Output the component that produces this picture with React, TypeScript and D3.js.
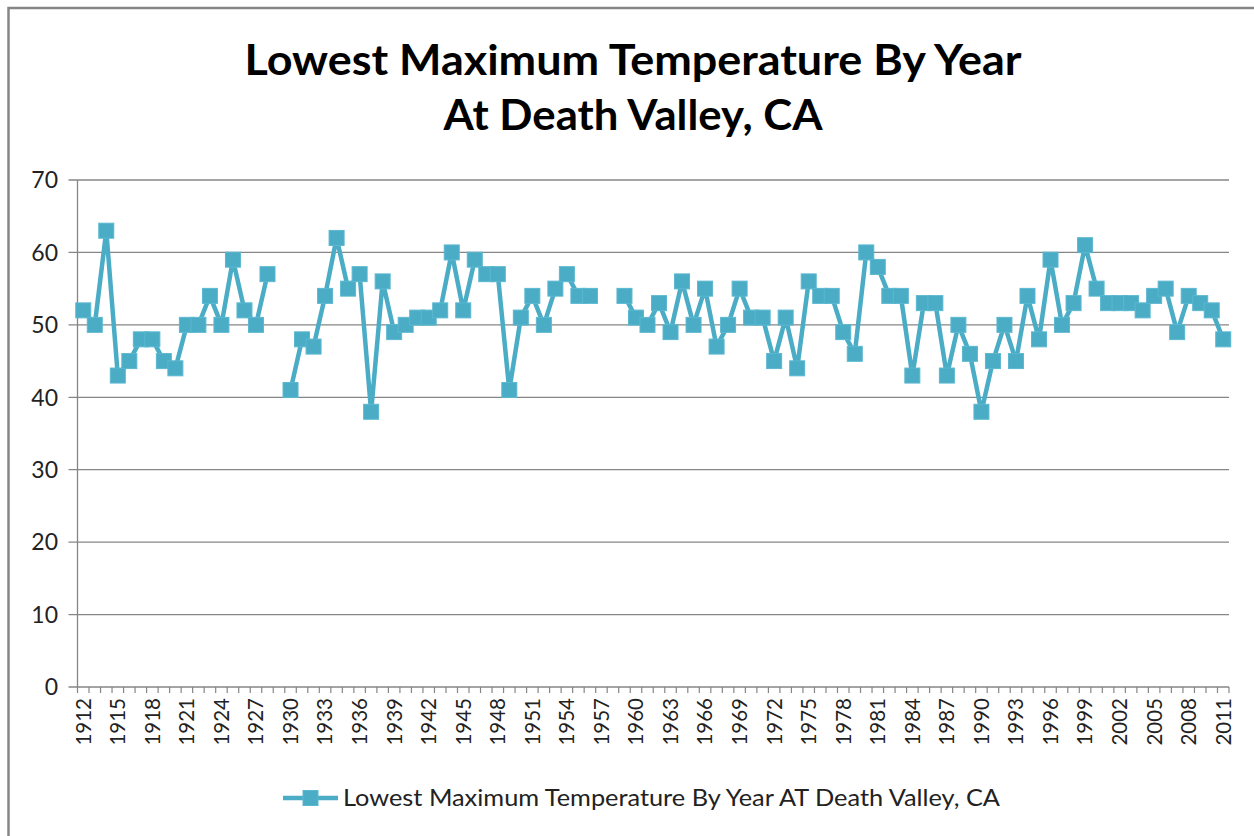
import React from "react";
import * as d3 from "d3";

const years: number[] = d3.range(1912, 2012);
const temps: (number | null)[] = [
  52, 50, 63, 43, 45, 48, 48, 45, 44, 50,
  50, 54, 50, 59, 52, 50, 57, null, 41, 48,
  47, 54, 62, 55, 57, 38, 56, 49, 50, 51,
  51, 52, 60, 52, 59, 57, 57, 41, 51, 54,
  50, 55, 57, 54, 54, null, null, 54, 51, 50,
  53, 49, 56, 50, 55, 47, 50, 55, 51, 51,
  45, 51, 44, 56, 54, 54, 49, 46, 60, 58,
  54, 54, 43, 53, 53, 43, 50, 46, 38, 45,
  50, 45, 54, 48, 59, 50, 53, 61, 55, 53,
  53, 53, 52, 54, 55, 49, 54, 53, 52, 48,
];
const yTicks: number[] = [0, 10, 20, 30, 40, 50, 60, 70];
const titleLines: string[] = ["Lowest Maximum Temperature By Year", "At Death Valley, CA"];
const seriesName = "Lowest Maximum Temperature By Year AT Death Valley, CA";

const W = 1254;
const H = 836;
const LEFT = 77.5;
const RIGHT = 1229;
const TOP = 180;
const BOTTOM = 687;
const COLOR = "#4bacc6";
const GRID = "#868686";
const FONT = "Lato, 'Open Sans', sans-serif";

export default function App() {
  const x = d3.scaleBand<number>().domain(years).range([LEFT, RIGHT]).padding(0);
  const y = d3.scaleLinear().domain([0, 70]).range([BOTTOM, TOP]);
  const cx = (yr: number) => (x(yr) as number) + x.bandwidth() / 2;

  const data = years.map((yr, i) => ({ yr, v: temps[i] }));
  const line = d3
    .line<{ yr: number; v: number | null }>()
    .defined((d) => d.v !== null)
    .x((d) => cx(d.yr))
    .y((d) => y(d.v as number));

  const boundaries = d3.range(years.length + 1).map((i) => LEFT + i * x.bandwidth());
  const labelYears = years.filter((_, i) => i % 3 === 0);
  const ms = 15;

  return (
    <svg width={W} height={H} style={{ position: "absolute", left: 0, top: 0, background: "#fff" }}>
      <rect x={8.5} y={8} width={W + 20} height={H + 20} fill="#fff" stroke={GRID} strokeWidth={2.5} />
      {/* title */}
      <text x={633} y={75} textAnchor="middle" fontFamily={FONT} fontWeight={700} fontSize={42} fill="#000"
        textLength={777} lengthAdjust="spacingAndGlyphs">{titleLines[0]}</text>
      <text x={633} y={130} textAnchor="middle" fontFamily={FONT} fontWeight={700} fontSize={42} fill="#000"
        textLength={379} lengthAdjust="spacingAndGlyphs">{titleLines[1]}</text>
      {/* gridlines */}
      {yTicks.map((t) => (
        <g key={t}>
          <line x1={LEFT - 9} x2={RIGHT} y1={y(t)} y2={y(t)} stroke={GRID} strokeWidth={1.3} />
          <text x={58} y={y(t)} dy="0.36em" textAnchor="end" fontFamily={FONT} fontSize={23} fill="#222">{t}</text>
        </g>
      ))}
      {/* y axis */}
      <line x1={LEFT} x2={LEFT} y1={TOP} y2={BOTTOM} stroke={GRID} strokeWidth={1.3} />
      {/* x ticks */}
      {boundaries.map((bx, i) => (
        <line key={i} x1={bx} x2={bx} y1={BOTTOM} y2={BOTTOM + 6} stroke={GRID} strokeWidth={1.2} />
      ))}
      {labelYears.map((yr) => (
        <text key={yr} transform={`translate(${cx(yr)},${BOTTOM + 11}) rotate(-90)`} dy="0.36em" textAnchor="end"
          fontFamily={FONT} fontSize={20.5} fill="#222">{yr}</text>
      ))}
      {/* series */}
      <path d={line(data) || ""} fill="none" stroke={COLOR} strokeWidth={4.5} strokeLinejoin="round" />
      {data.filter((d) => d.v !== null).map((d) => (
        <rect key={d.yr} x={cx(d.yr) - ms / 2} y={y(d.v as number) - ms / 2} width={ms} height={ms}
          fill={COLOR} stroke="#5bb8d0" strokeWidth={1} />
      ))}
      {/* legend */}
      <line x1={283} x2={338} y1={798} y2={798} stroke={COLOR} strokeWidth={4.5} />
      <rect x={310.5 - ms / 2} y={798 - ms / 2} width={ms} height={ms} fill={COLOR} stroke="#5bb8d0" strokeWidth={1} />
      <text x={343} y={798} dy="0.36em" fontFamily={FONT} fontSize={23} fill="#222"
        textLength={657} lengthAdjust="spacingAndGlyphs">{seriesName}</text>
    </svg>
  );
}
